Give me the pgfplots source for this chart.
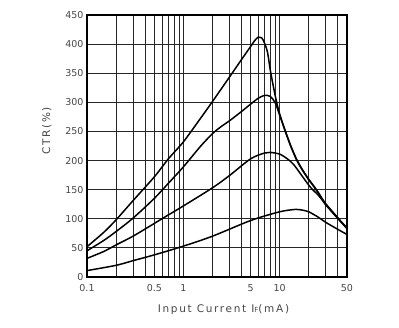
\documentclass[border=0pt]{standalone}
\usepackage{fontspec}
\setmainfont{DejaVu Sans}
\newfontfamily\labfont{DejaVu Sans}[LetterSpace=16]
\usepackage{pgfplots}
\pgfplotsset{compat=1.18}
\definecolor{txt}{RGB}{70,70,70}
\begin{document}
\begin{tikzpicture}
\useasboundingbox (-87pt,-51pt) rectangle (312pt,277pt);
\begin{axis}[
  at={(0,0)}, anchor=south west,
  scale only axis, width=260pt, height=262pt,
  xmode=log, xmin=0.1, xmax=50, ymin=0, ymax=450,
  xtick={0.1,0.2,0.3,0.4,0.5,0.6,0.7,0.8,0.9,1,2,3,4,5,6,7,8,9,10,20,30,40,50},
  xticklabels={0.1,,,,0.5,,,,,1,,,,5,,,,,10,,,,50},
  ytick={0,50,100,150,200,250,300,350,400,450},
  grid=major,
  major grid style={black!85, line width=0.8pt},
  tick style={draw=none},
  axis line style={black, line width=1.1pt},
  tick label style={font=\fontsize{9.5}{10}\selectfont, text=txt},
  xticklabel style={yshift=-4pt},
  /pgf/number format/assume math mode=true,
  xlabel={\labfont Input Current I{\fontsize{7}{7}\selectfont F}(mA)},
  ylabel={\labfont CTR(\%)},
  label style={font=\fontsize{10.5}{12}\selectfont, text=txt},
  xlabel style={at={(axis description cs:0.525,-0.123)}, anchor=center},
  ylabel style={at={(axis description cs:-0.154,0.558)}, anchor=center},
]
% curve A (highest)
\addplot[black, line width=1.5pt, smooth] coordinates {
(0.1,52) (0.15,77) (0.2,98) (0.3,131) (0.5,172) (0.7,203) (1,232) (1.5,272)
(2,301) (3,343) (4,373) (5,396) (5.5,406) (6,412) (6.5,411) (7,401) (7.5,385)
(8,355) (9,311) (10,280) (11.5,250) (13,226) (15,202) (17,186) (20,168)
(22,159) (25,146) (28,133) (30,126) (40,102) (50,84)};
% curve B
\addplot[black, line width=1.5pt, smooth] coordinates {
(0.1,45) (0.15,63) (0.2,78) (0.3,101) (0.5,135) (0.7,161) (1,189) (1.5,224)
(2,246) (2.5,259) (3,268) (4,284) (5,297) (6,307) (7,312) (8,310) (9,299) (10,278)
(11.5,249) (13,225) (15,201) (17,185) (20,167) (22,158) (25,145) (28,132) (30,125) (40,101) (50,84)};
% curve C
\addplot[black, line width=1.5pt, smooth] coordinates {
(0.1,32) (0.15,44) (0.2,55) (0.3,70) (0.5,92) (0.6,100) (1,122) (2,153)
(3,174) (5,203) (7,213) (8,214) (10,211) (12,203) (14,193) (17,174) (20,158)
(22,150) (25,141) (28,131) (30,124) (40,101) (50,83)};
% curve D
\addplot[black, line width=1.5pt, smooth] coordinates {
(0.1,11) (0.2,20) (0.3,28) (0.5,38) (1,53) (2,70) (5,97) (10,112) (14.5,116)
(17,115) (20,112) (25,103) (30,94) (40,82) (50,73)};
\end{axis}
\end{tikzpicture}
\end{document}
